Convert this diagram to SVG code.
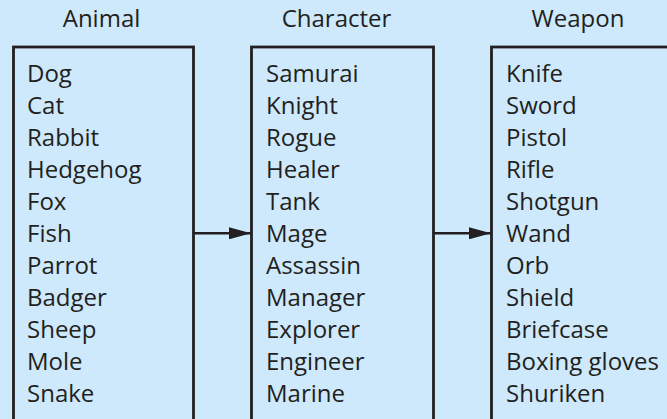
<svg xmlns="http://www.w3.org/2000/svg" width="667" height="419" viewBox="0 0 667 419">
<defs>
<style>
text{font-family:"Open Sans","Liberation Sans",sans-serif;font-size:24px;fill:#231f20}
.box{fill:none;stroke:#231f20;stroke-width:2.8}
.conn{stroke:#231f20;stroke-width:2.5;fill:none}
</style>
<marker id="ah" markerUnits="userSpaceOnUse" markerWidth="23" markerHeight="12" refX="22" refY="6" orient="auto">
<path d="M0,0 L22,6 L0,12 Z" fill="#231f20"/>
</marker>
</defs>
<rect width="667" height="419" fill="#cde9fb"/>
<g id="animal">
<text x="101.5" y="27.3" text-anchor="middle">Animal</text>
<rect class="box" x="13.5" y="47" width="180" height="374"/>
<text x="27" y="81.7">Dog</text>
<text x="27" y="113.7">Cat</text>
<text x="27" y="145.7">Rabbit</text>
<text x="27" y="177.7">Hedgehog</text>
<text x="27" y="209.7">Fox</text>
<text x="27" y="241.7">Fish</text>
<text x="27" y="273.7">Parrot</text>
<text x="27" y="305.7">Badger</text>
<text x="27" y="337.7">Sheep</text>
<text x="27" y="369.7">Mole</text>
<text x="27" y="401.7">Snake</text>
</g>
<g id="character">
<text x="336.5" y="27.3" text-anchor="middle">Character</text>
<rect class="box" x="251.5" y="47" width="182" height="374"/>
<text x="266" y="81.7">Samurai</text>
<text x="266" y="113.7">Knight</text>
<text x="266" y="145.7">Rogue</text>
<text x="266" y="177.7">Healer</text>
<text x="266" y="209.7">Tank</text>
<text x="266" y="241.7">Mage</text>
<text x="266" y="273.7">Assassin</text>
<text x="266" y="305.7">Manager</text>
<text x="266" y="337.7">Explorer</text>
<text x="266" y="369.7">Engineer</text>
<text x="266" y="401.7">Marine</text>
</g>
<g id="weapon">
<text x="578" y="27.3" text-anchor="middle">Weapon</text>
<rect class="box" x="491.5" y="47" width="190" height="374"/>
<text x="506" y="81.7">Knife</text>
<text x="506" y="113.7">Sword</text>
<text x="506" y="145.7">Pistol</text>
<text x="506" y="177.7">Rifle</text>
<text x="506" y="209.7">Shotgun</text>
<text x="506" y="241.7">Wand</text>
<text x="506" y="273.7">Orb</text>
<text x="506" y="305.7">Shield</text>
<text x="506" y="337.7">Briefcase</text>
<text x="506" y="369.7">Boxing gloves</text>
<text x="506" y="401.7">Shuriken</text>
</g>
<g id="connectors">
<line class="conn" x1="193.5" y1="233.3" x2="251" y2="233.3" marker-end="url(#ah)"/>
<line class="conn" x1="433.5" y1="233.3" x2="491" y2="233.3" marker-end="url(#ah)"/>
</g>
</svg>
